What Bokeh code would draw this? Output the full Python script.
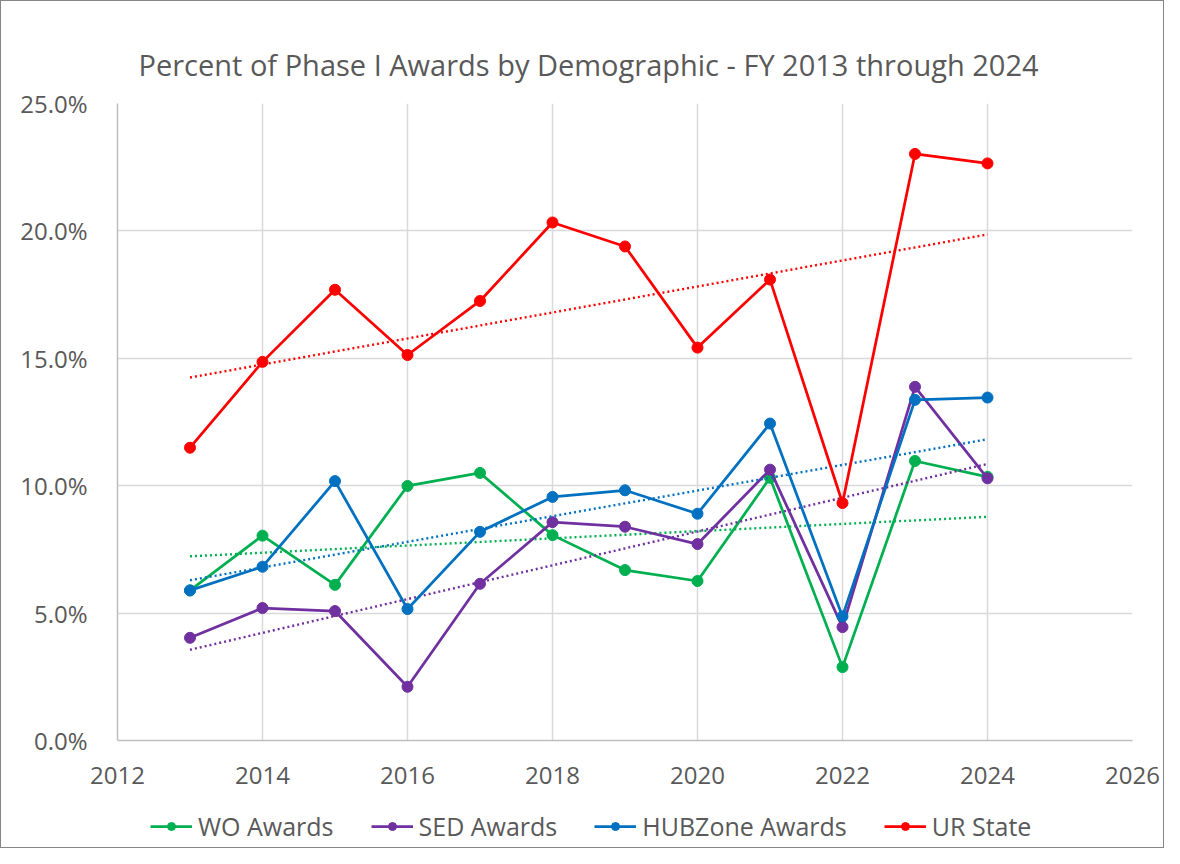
import numpy as np
from bokeh.plotting import figure
from bokeh.layouts import column
from bokeh.models import FixedTicker, PrintfTickFormatter, Legend, LegendItem, Range1d
from bokeh.embed import file_html
from bokeh.resources import INLINE

years = [2013, 2014, 2015, 2016, 2017, 2018, 2019, 2020, 2021, 2022, 2023, 2024]
wo_awards = [5.89, 8.04, 6.11, 9.99, 10.50, 8.06, 6.69, 6.26, 10.31, 2.88, 10.97, 10.35]
sed_awards = [4.03, 5.20, 5.08, 2.11, 6.15, 8.57, 8.39, 7.71, 10.63, 4.45, 13.88, 10.29]
hubzone_awards = [5.89, 6.82, 10.18, 5.16, 8.19, 9.56, 9.82, 8.90, 12.44, 4.87, 13.37, 13.46]
ur_state = [11.49, 14.86, 17.69, 15.13, 17.25, 20.33, 19.39, 15.42, 18.09, 9.32, 23.02, 22.65]

series_names = ["WO Awards", "SED Awards", "HUBZone Awards", "UR State"]
series_values = [wo_awards, sed_awards, hubzone_awards, ur_state]
series_colors = ["#00B050", "#7030A0", "#0070C0", "#FF0000"]

x_ticks = [2012, 2014, 2016, 2018, 2020, 2022, 2024, 2026]
y_ticks = [0, 5, 10, 15, 20, 25]

FONT = "Open Sans"
TXT = "#595959"
W = 1162

p = figure(width=W, height=798, output_backend="svg", toolbar_location=None,
           x_range=Range1d(2012, 2026), y_range=Range1d(0, 25),
           min_border_left=116, min_border_right=31, min_border_top=102, min_border_bottom=59,
           title="Percent of Phase I Awards by Demographic - FY 2013 through 2024")

p.title.align = "left"
p.title.text_font = FONT
p.title.text_font_size = "29px"
p.title.text_font_style = "normal"
p.title.text_color = TXT
p.title.offset = 21
p.title.standoff = 40

p.outline_line_color = None
p.xaxis.ticker = FixedTicker(ticks=x_ticks)
p.yaxis.ticker = FixedTicker(ticks=y_ticks)
p.yaxis.formatter = PrintfTickFormatter(format="%.1f%%")
for ax in (p.xaxis, p.yaxis):
    ax.axis_line_color = "#bfbfbf"
    ax.axis_line_width = 1.5
    ax.major_tick_line_color = None
    ax.minor_tick_line_color = None
    ax.major_label_text_font = FONT
    ax.major_label_text_font_size = "24px"
    ax.major_label_text_color = TXT
p.yaxis.major_label_standoff = 24
p.xaxis.major_label_standoff = 20

p.xgrid.ticker = FixedTicker(ticks=x_ticks)
p.ygrid.ticker = FixedTicker(ticks=y_ticks)
for g in (p.xgrid, p.ygrid):
    g.grid_line_color = "#d9d9d9"
    g.grid_line_width = 1.5

yrs = np.array(years, dtype=float)
for name, vals, col in zip(series_names, series_values, series_colors):
    # linear trendline (least squares) from the data
    k, b = np.polyfit(yrs, np.array(vals), 1)
    tx = [years[0], years[-1]]
    p.line(tx, [k * t + b for t in tx], line_color=col, line_width=2.4, line_dash="2 3")
    p.line(years, vals, line_color=col, line_width=2.75)
    p.scatter(years, vals, size=11, fill_color=col, line_color=col)

# legend strip below the chart (its frame is aligned with the chart's frame)
lg = figure(width=W, height=48, output_backend="svg", toolbar_location=None,
            x_range=Range1d(0, 1), y_range=Range1d(0, 1),
            x_axis_type=None, y_axis_type=None,
            min_border_left=0, min_border_right=0, min_border_top=0, min_border_bottom=0)
lg.outline_line_color = None
lg.xgrid.visible = False
lg.ygrid.visible = False
items = []
nan = [float("nan")]
for name, col in zip(series_names, series_colors):
    r1 = lg.line(nan, nan, line_color=col, line_width=2.75)
    r2 = lg.scatter(nan, nan, size=11, fill_color=col, line_color=col)
    items.append(LegendItem(label=name, renderers=[r1, r2]))
legend = Legend(items=items, orientation="horizontal", location=(33, 4),
                glyph_width=42, glyph_height=20, label_standoff=6, spacing=37,
                label_text_font=FONT, label_text_font_size="25px", label_text_color=TXT,
                border_line_color=None, background_fill_alpha=0, padding=4, margin=0)
lg.add_layout(legend, "center")

layout = column(p, lg, spacing=0)
layout.styles = {"border": "1px solid #868686"}

open("out.html", "w").write(file_html(layout, INLINE))
